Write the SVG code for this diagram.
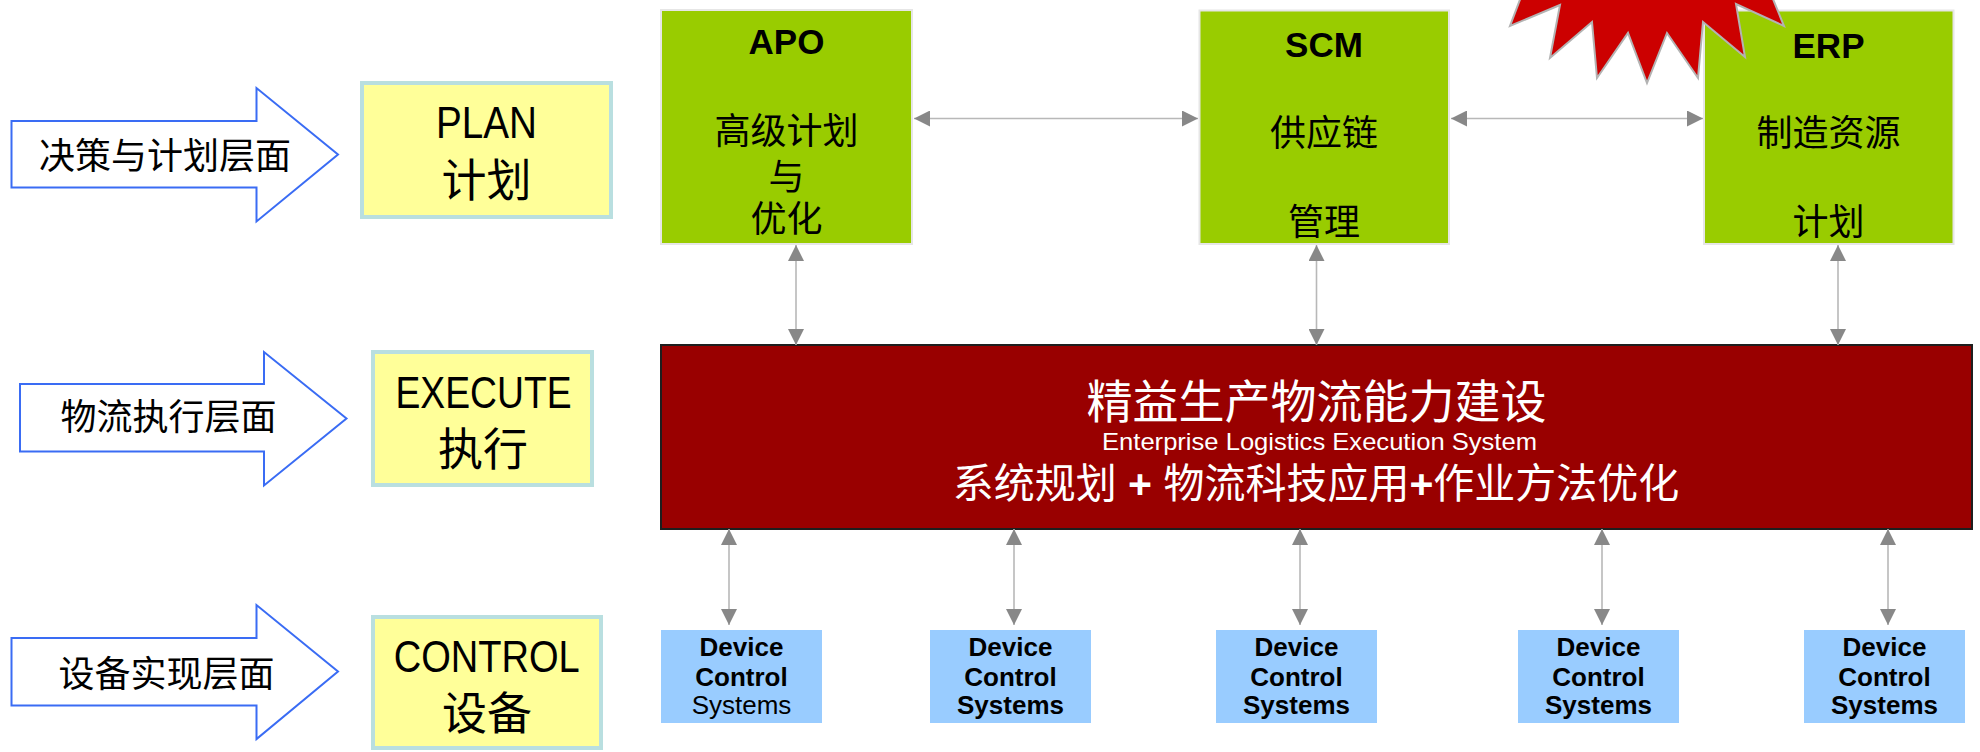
<svg xmlns="http://www.w3.org/2000/svg" width="1980" height="752" viewBox="0 0 1980 752">
<defs>
<style>
.cjk{font-family:"Liberation Sans","Noto Sans CJK SC",sans-serif;}
.lay{fill:#fff;stroke:#3a6cf4;stroke-width:2;}
.lvl{fill:#ffff99;stroke:#b9dfe0;stroke-width:4;}
.grn{fill:#99cc00;stroke:#e6e6e6;stroke-width:2;}
.dev{fill:#99ccff;}
.lbl{font-size:36px;fill:#000;text-anchor:middle;}
.lvt{font-size:45px;fill:#000;text-anchor:middle;}
.gt{font-size:35px;font-weight:bold;fill:#000;text-anchor:middle;}
.gc{font-size:36px;fill:#000;text-anchor:middle;}
.dt{font-size:26px;fill:#000;text-anchor:middle;font-weight:bold;}
.dn{font-weight:normal;}
.con{stroke:#b8b8b8;stroke-width:1.6;fill:none;marker-start:url(#ah);marker-end:url(#ah);}
</style>
<marker id="ah" markerUnits="userSpaceOnUse" markerWidth="16" markerHeight="16" refX="14" refY="7" orient="auto-start-reverse" viewBox="0 0 14 14">
<path d="M0,0 L14,7 L0,14 Z" fill="#888888"/>
</marker>
</defs>
<rect width="1980" height="752" fill="#ffffff"/>

<g id="layer-plan">
<polygon class="lay" points="11.5,121 256.5,121 256.5,88 338,154.5 256.5,221.5 256.5,187.5 11.5,187.5"/>
<text class="cjk lbl" x="165" y="169">决策与计划层面</text>
</g>
<g id="layer-execute">
<polygon class="lay" points="20,384 264,384 264,352 346.5,418.5 264,485.5 264,451.5 20,451.5"/>
<text class="cjk lbl" x="168.5" y="430">物流执行层面</text>
</g>
<g id="layer-control">
<polygon class="lay" points="11.5,638 256.5,638 256.5,605 338,671.5 256.5,739 256.5,705.5 11.5,705.5"/>
<text class="cjk lbl" x="166.5" y="687">设备实现层面</text>
</g>

<g id="level-plan">
<rect class="lvl" x="362" y="83" width="249" height="134"/>
<text class="cjk lvt" x="486.5" y="138" textLength="101" lengthAdjust="spacingAndGlyphs">PLAN</text>
<text class="cjk lvt" x="486.5" y="197" font-size="44">计划</text>
</g>
<g id="level-execute">
<rect class="lvl" x="373" y="352" width="219" height="133"/>
<text class="cjk lvt" x="483.5" y="408" font-size="46" textLength="176" lengthAdjust="spacingAndGlyphs">EXECUTE</text>
<text class="cjk lvt" x="483" y="466" font-size="45">执行</text>
</g>
<g id="level-control">
<rect class="lvl" x="373" y="617" width="228" height="131"/>
<text class="cjk lvt" x="486.7" y="671.5" textLength="186" lengthAdjust="spacingAndGlyphs">CONTROL</text>
<text class="cjk lvt" x="487" y="730" font-size="45">设备</text>
</g>

<g id="apo">
<rect class="grn" x="661" y="10" width="251" height="234"/>
<text class="cjk gt" x="786.5" y="54">APO</text>
<text class="cjk gc" x="786.5" y="144">高级计划</text>
<text class="cjk gc" x="786.5" y="190">与</text>
<text class="cjk gc" x="786.5" y="232">优化</text>
</g>
<g id="scm">
<rect class="grn" x="1199.5" y="10.5" width="249.5" height="233.5"/>
<text class="cjk gt" x="1324" y="57">SCM</text>
<text class="cjk gc" x="1324" y="146">供应链</text>
<text class="cjk gc" x="1324" y="235">管理</text>
</g>
<g id="erp">
<rect class="grn" x="1704" y="10.5" width="249.5" height="233.5"/>
<text class="cjk gt" x="1828.5" y="58">ERP</text>
<text class="cjk gc" x="1828.5" y="146">制造资源</text>
<text class="cjk gc" x="1828.5" y="235">计划</text>
</g>

<g id="starburst">
<polygon points="1535,-40 1510,26 1560,5 1550,58 1592,22 1597,78 1628,33 1647,83 1667,33 1698,78 1703,22 1745,57 1736,4 1784,26 1757,-40" fill="#cc0000" stroke="#b3b3b3" stroke-width="2" stroke-linejoin="miter"/>
</g>

<g id="eles">
<rect x="661" y="345" width="1311" height="184" fill="#990000" stroke="#1e1e1e" stroke-width="2"/>
<text class="cjk" x="1316.5" y="418" font-size="46" fill="#fff" text-anchor="middle">精益生产物流能力建设</text>
<text class="cjk" x="1319.5" y="450" font-size="24" fill="#fff" text-anchor="middle" textLength="435" lengthAdjust="spacingAndGlyphs">Enterprise Logistics Execution System</text>
<text class="cjk" x="1316" y="498" font-size="41" fill="#fff" text-anchor="middle">系统规划 <tspan font-weight="bold">+</tspan> 物流科技应用<tspan font-weight="bold">+</tspan>作业方法优化</text>
</g>

<g id="device-1">
<rect class="dev" x="661" y="630" width="161" height="93"/>
<text class="cjk dt" x="741.5" y="656">Device</text>
<text class="cjk dt" x="741.5" y="686">Control</text>
<text class="cjk dt dn" x="741.5" y="714">Systems</text>
</g>
<g id="device-2">
<rect class="dev" x="930" y="630" width="161" height="93"/>
<text class="cjk dt" x="1010.5" y="656">Device</text>
<text class="cjk dt" x="1010.5" y="686">Control</text>
<text class="cjk dt" x="1010.5" y="714">Systems</text>
</g>
<g id="device-3">
<rect class="dev" x="1216" y="630" width="161" height="93"/>
<text class="cjk dt" x="1296.5" y="656">Device</text>
<text class="cjk dt" x="1296.5" y="686">Control</text>
<text class="cjk dt" x="1296.5" y="714">Systems</text>
</g>
<g id="device-4">
<rect class="dev" x="1518" y="630" width="161" height="93"/>
<text class="cjk dt" x="1598.5" y="656">Device</text>
<text class="cjk dt" x="1598.5" y="686">Control</text>
<text class="cjk dt" x="1598.5" y="714">Systems</text>
</g>
<g id="device-5">
<rect class="dev" x="1804" y="630" width="161" height="93"/>
<text class="cjk dt" x="1884.5" y="656">Device</text>
<text class="cjk dt" x="1884.5" y="686">Control</text>
<text class="cjk dt" x="1884.5" y="714">Systems</text>
</g>

<g id="connectors">
<line class="con" x1="914" y1="118.5" x2="1198" y2="118.5"/>
<line class="con" x1="1451" y1="118.5" x2="1703" y2="118.5"/>
<line class="con" x1="796" y1="245" x2="796" y2="345"/>
<line class="con" x1="1316.5" y1="245" x2="1316.5" y2="345"/>
<line class="con" x1="1838" y1="245" x2="1838" y2="345"/>
<line class="con" x1="729" y1="529" x2="729" y2="625"/>
<line class="con" x1="1014" y1="529" x2="1014" y2="625"/>
<line class="con" x1="1300" y1="529" x2="1300" y2="625"/>
<line class="con" x1="1602" y1="529" x2="1602" y2="625"/>
<line class="con" x1="1888" y1="529" x2="1888" y2="625"/>
</g>
</svg>
